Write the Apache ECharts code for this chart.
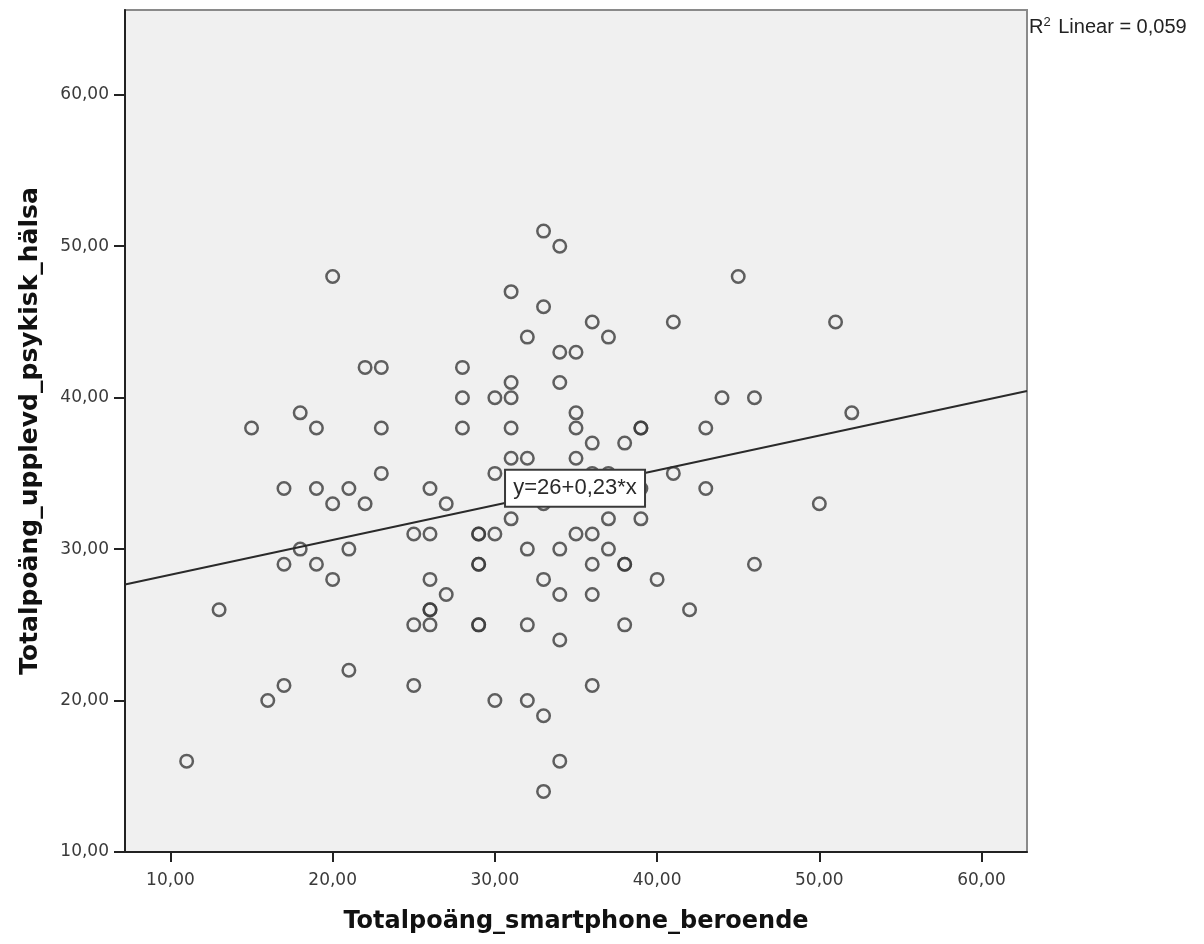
<!DOCTYPE html>
<html>
<head>
<meta charset="utf-8">
<script src="https://cdn.jsdelivr.net/npm/echarts@6/dist/echarts.min.js"></script>
<style>
  html, body { margin: 0; padding: 0; background: #fff; }
  #chart { width: 1204px; height: 944px; }
</style>
</head>
<body>
<div id="chart"></div>
<script>
"use strict";

// smartphone-beroende (x) och psykisk hälsa (y), en post per person
var scoreSmartphone = [
  11, 13, 15, 16, 17, 17, 17, 18, 18, 19, 19, 19, 20, 20, 20, 21, 21, 21,
  22, 22, 23, 23, 23, 25, 25, 25, 26, 26, 26, 26, 26, 26, 27, 27,
  28, 28, 28, 29, 29, 29, 29, 29, 29, 30, 30, 30, 30,
  31, 31, 31, 31, 31, 31, 32, 32, 32, 32, 32,
  33, 33, 33, 33, 33, 33, 34, 34, 34, 34, 34, 34, 34,
  35, 35, 35, 35, 35, 36, 36, 36, 36, 36, 36, 36,
  37, 37, 37, 37, 38, 38, 38, 38, 39, 39, 39, 39,
  40, 41, 41, 42, 43, 43, 44, 45, 46, 46, 50, 51, 52
];
var scoreHealth = [
  16, 26, 38, 20, 34, 29, 21, 39, 30, 38, 34, 29, 48, 33, 28, 34, 30, 22,
  42, 33, 42, 38, 35, 31, 25, 21, 34, 31, 28, 26, 26, 25, 33, 27,
  42, 40, 38, 31, 31, 29, 29, 25, 25, 40, 35, 31, 20,
  47, 41, 40, 38, 36, 32, 44, 36, 30, 25, 20,
  51, 46, 33, 28, 19, 14, 50, 43, 41, 30, 27, 24, 16,
  43, 39, 38, 36, 31, 45, 37, 35, 31, 29, 27, 21,
  44, 35, 32, 30, 37, 29, 29, 25, 38, 38, 34, 32,
  28, 45, 35, 26, 38, 34, 40, 48, 40, 29, 33, 45, 39
];

// regressionslinjen avläst vid plotens kanter
var fitX = [7.2, 62.8];
var fitY = [27.66, 40.44];

var tickValues = [10, 20, 30, 40, 50, 60];
var fitLabel = "y=26+0,23*x";
var r2Label = "0,059";

var points = scoreSmartphone.map(function (x, i) {
  return [x, scoreHealth[i]];
});
var fitLine = fitX.map(function (x, i) {
  return [x, fitY[i]];
});

function fmt(v) {
  return v.toFixed(2).replace(".", ",");
}

var myChart = echarts.init(document.getElementById("chart"), null, { renderer: "canvas" });

var axisFont = {
  fontFamily: "DejaVu Sans",
  fontSize: 17,
  color: "#3a3a3a",
};
var nameFont = {
  fontFamily: "DejaVu Sans",
  fontWeight: "bold",
  fontSize: 24,
  color: "#111",
};

var option = {
  animation: false,
  backgroundColor: "#fff",
  grid: {
    left: 125,
    top: 10,
    right: 177,
    bottom: 92,
    show: true,
    backgroundColor: "#f0f0f0",
    borderColor: "#8a8a8a",
    borderWidth: 2,
  },
  xAxis: {
    type: "value",
    min: 7.2,
    max: 62.8,
    name: "Totalpoäng_smartphone_beroende",
    nameLocation: "middle",
    nameGap: 58,
    nameTextStyle: nameFont,
    splitLine: { show: false },
    axisLine: { onZero: false, lineStyle: { color: "#222", width: 2 } },
    axisTick: {
      inside: false,
      length: 10,
      customValues: tickValues,
      lineStyle: { color: "#222", width: 2 },
    },
    axisLabel: Object.assign({
      margin: 20,
      customValues: tickValues,
      formatter: fmt,
    }, axisFont),
  },
  yAxis: {
    type: "value",
    min: 10,
    max: 65.6,
    name: "Totalpoäng_upplevd_psykisk_hälsa",
    nameLocation: "middle",
    nameGap: 82,
    nameTextStyle: Object.assign({}, nameFont, { fontSize: 25 }),
    splitLine: { show: false },
    axisLine: { onZero: false, lineStyle: { color: "#222", width: 2 } },
    axisTick: {
      inside: false,
      length: 11,
      customValues: tickValues,
      lineStyle: { color: "#222", width: 2 },
    },
    axisLabel: Object.assign({
      margin: 16,
      customValues: tickValues,
      formatter: fmt,
    }, axisFont),
  },
  series: [
    {
      type: "line",
      data: fitLine,
      symbol: "none",
      silent: true,
      lineStyle: { color: "#2a2a2a", width: 2 },
      z: 2,
      markPoint: {
        symbol: "circle",
        symbolSize: 1,
        silent: true,
        itemStyle: { color: "rgba(0,0,0,0)" },
        label: {
          show: true,
          position: "inside",
          formatter: fitLabel,
          fontFamily: "Liberation Sans",
          fontSize: 22,
          color: "#2a2a2a",
          backgroundColor: "#fff",
          borderColor: "#3a3a3a",
          borderWidth: 2,
          width: 128,
          height: 25,
          lineHeight: 25,
          align: "center",
          verticalAlign: "middle",
          padding: [5, 5],
        },
        data: [{ coord: [34.94, 34.02] }],
      },
    },
    {
      type: "scatter",
      data: points,
      symbol: "circle",
      symbolSize: 12.5,
      itemStyle: {
        color: "rgba(0,0,0,0)",
        borderColor: "#3a3a3a",
        borderWidth: 2.5,
      },
      z: 1,
    },
  ],
  graphic: [
    {
      type: "text",
      left: 1029,
      top: 16,
      style: {
        text: "R{sup|2} Linear = " + r2Label,
        fontFamily: "Liberation Sans",
        fontSize: 20,
        fill: "#222",
        rich: {
          sup: {
            fontFamily: "Liberation Sans",
            fontSize: 13,
            fill: "#222",
            verticalAlign: "top",
            padding: [0, 2, 9, 0],
          },
        },
      },
    },
  ],
};

myChart.setOption(option);

window.onresize = function () {
  myChart.resize();
};
</script>
</body>
</html>
